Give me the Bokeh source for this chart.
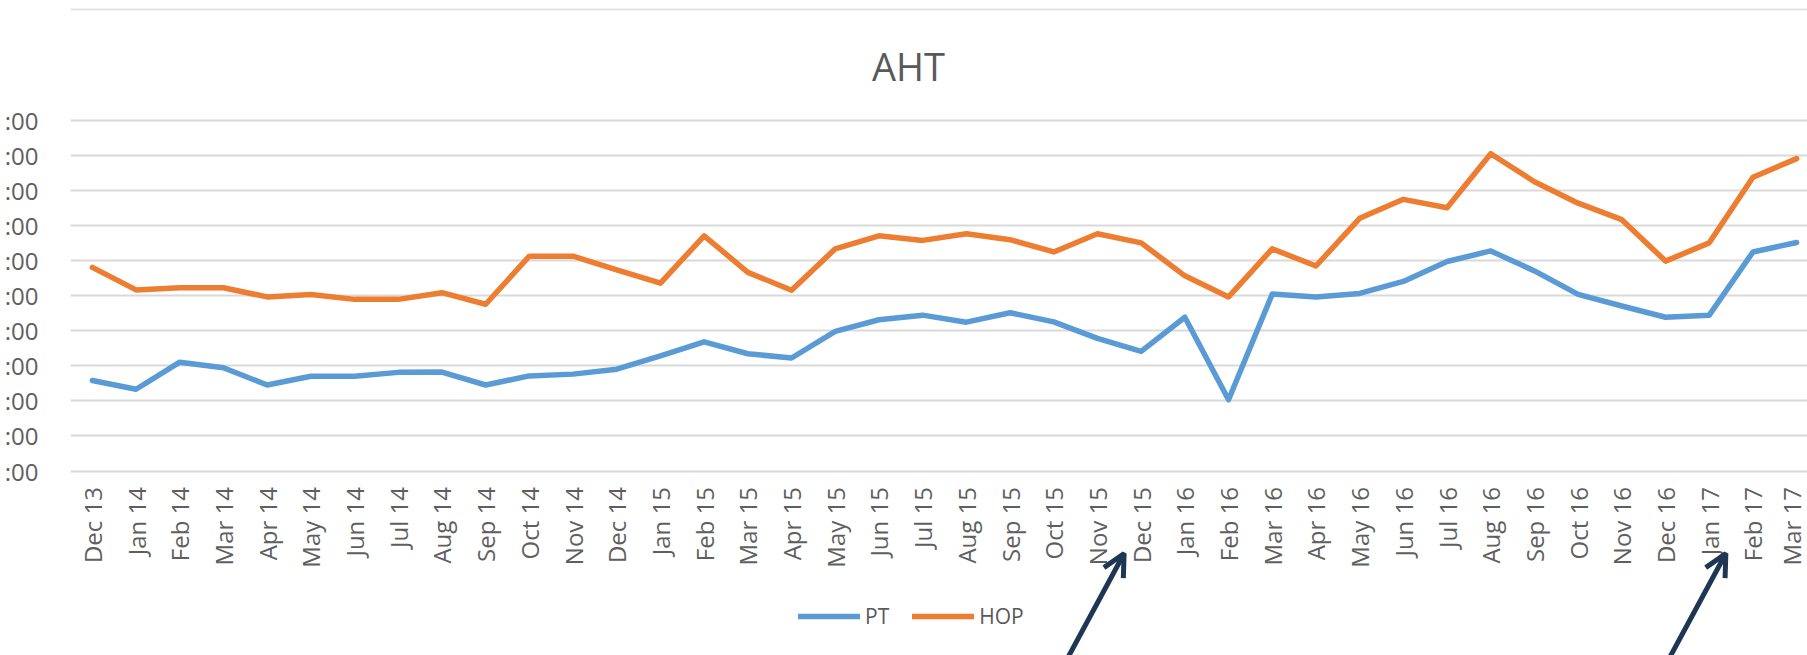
import math
from bokeh.plotting import figure
from bokeh.models import (Range1d, FixedTicker, Legend, LegendItem, Arrow, OpenHead,
                          Label, Span)
from bokeh.embed import file_html
from bokeh.resources import INLINE

months = ["Dec 13", "Jan 14", "Feb 14", "Mar 14", "Apr 14", "May 14", "Jun 14", "Jul 14",
          "Aug 14", "Sep 14", "Oct 14", "Nov 14", "Dec 14", "Jan 15", "Feb 15", "Mar 15",
          "Apr 15", "May 15", "Jun 15", "Jul 15", "Aug 15", "Sep 15", "Oct 15", "Nov 15",
          "Dec 15", "Jan 16", "Feb 16", "Mar 16", "Apr 16", "May 16", "Jun 16", "Jul 16",
          "Aug 16", "Sep 16", "Oct 16", "Nov 16", "Dec 16", "Jan 17", "Feb 17", "Mar 17"]

pt = [2.58, 2.33, 3.10, 2.94, 2.45, 2.70, 2.70, 2.81, 2.82, 2.45,
      2.71, 2.76, 2.90, 3.28, 3.68, 3.34, 3.22, 3.98, 4.31, 4.44,
      4.24, 4.51, 4.25, 3.78, 3.41, 4.38, 2.03, 5.04, 4.96, 5.06,
      5.40, 5.97, 6.27, 5.70, 5.03, 4.70, 4.38, 4.44, 6.24, 6.51]

hop = [5.80, 5.16, 5.22, 5.22, 4.96, 5.03, 4.89, 4.89, 5.08, 4.75,
       6.12, 6.12, 5.73, 5.35, 6.70, 5.66, 5.15, 6.33, 6.70, 6.57,
       6.76, 6.59, 6.24, 6.76, 6.50, 5.56, 4.96, 6.33, 5.84, 7.20,
       7.74, 7.50, 9.04, 8.24, 7.63, 7.16, 5.98, 6.50, 8.37, 8.90]

y_ticks = [0, 1, 2, 3, 4, 5, 6, 7, 8, 9, 10]
y_tick_labels = [":00", ":00", ":00", ":00", ":00", ":00", ":00", ":00", ":00", ":00", ":00"]

title_text = "AHT"
series_names = ["PT", "HOP"]
series_colors = ["#5B9BD5", "#ED7D31"]

arrow_targets = ["Dec 15", "Jan 17"]
arrow_tip_dx = [-0.39, 0.38]

FONT = "Open Sans"
W, H = 1807, 655
ML = 70
PX_PER_CAT = 43.7
PX_PER_UNIT = 35.1
TOP_GRID_PX = 119.5          # pixel row of the top gridline
x_idx = list(range(len(months)))

def px_to_y(py):
    return 10 + (TOP_GRID_PX - py) / PX_PER_UNIT

p = figure(width=W, height=H, output_backend="svg", toolbar_location=None,
           x_range=Range1d(-0.5, -0.5 + (W - ML) / PX_PER_CAT),
           y_range=Range1d(px_to_y(H), px_to_y(0)),
           min_border_left=ML, min_border_right=0, min_border_top=0,
           min_border_bottom=0)
p.outline_line_color = None
p.background_fill_color = "white"
p.border_fill_color = "white"

# chart-area top border
p.add_layout(Span(location=px_to_y(9), dimension="width", line_color="#e4e4e4", line_width=2))

# chart title
p.add_layout(Label(x=-0.5 + (908 - ML) / PX_PER_CAT, y=px_to_y(65.5), text=title_text,
                   text_align="center", text_baseline="alphabetic",
                   text_font=FONT, text_font_size="38px", text_color="#595959"))

p.xgrid.grid_line_color = None
p.ygrid.ticker = FixedTicker(ticks=y_ticks)
p.ygrid.grid_line_color = "#d9d9d9"
p.ygrid.grid_line_width = 2

p.yaxis.ticker = FixedTicker(ticks=y_ticks)
p.yaxis.major_label_overrides = {t: l for t, l in zip(y_ticks, y_tick_labels)}
p.xaxis.ticker = FixedTicker(ticks=x_idx)
p.xaxis.major_label_overrides = {i: m for i, m in zip(x_idx, months)}
p.xaxis.fixed_location = 0
p.xaxis.major_label_orientation = math.pi / 2
p.xaxis.major_label_standoff = 10
p.yaxis.major_label_standoff = 26
for ax in (p.xaxis, p.yaxis):
    ax.axis_line_color = None
    ax.major_tick_line_color = None
    ax.minor_tick_line_color = None
    ax.major_label_text_font = FONT
    ax.major_label_text_font_size = "24px"
    ax.major_label_text_color = "#5f5f5f"

renderers = []
for vals, col in zip([pt, hop], series_colors):
    r = p.line(x_idx, vals, line_color=col, line_width=5.5, line_join="round", line_cap="round")
    renderers.append(r)

legend = Legend(items=[LegendItem(label=n, renderers=[r]) for n, r in zip(series_names, renderers)],
                orientation="horizontal", location=(728, 25), padding=0, margin=0,
                spacing=23, glyph_width=62, glyph_height=20, label_standoff=5,
                label_text_font=FONT, label_text_font_size="21px", label_text_color="#595959",
                border_line_color=None, background_fill_alpha=0)
p.add_layout(legend)

arrow_color = "#1d3654"
for lab, dx in zip(arrow_targets, arrow_tip_dx):
    xi = months.index(lab) + dx
    p.add_layout(Arrow(end=OpenHead(size=22, line_width=5, line_color=arrow_color),
                       x_start=xi - 1.28, y_start=-5.3, x_end=xi, y_end=-2.35,
                       line_width=5, line_color=arrow_color))

open("out.html", "w").write(file_html(p, INLINE))
